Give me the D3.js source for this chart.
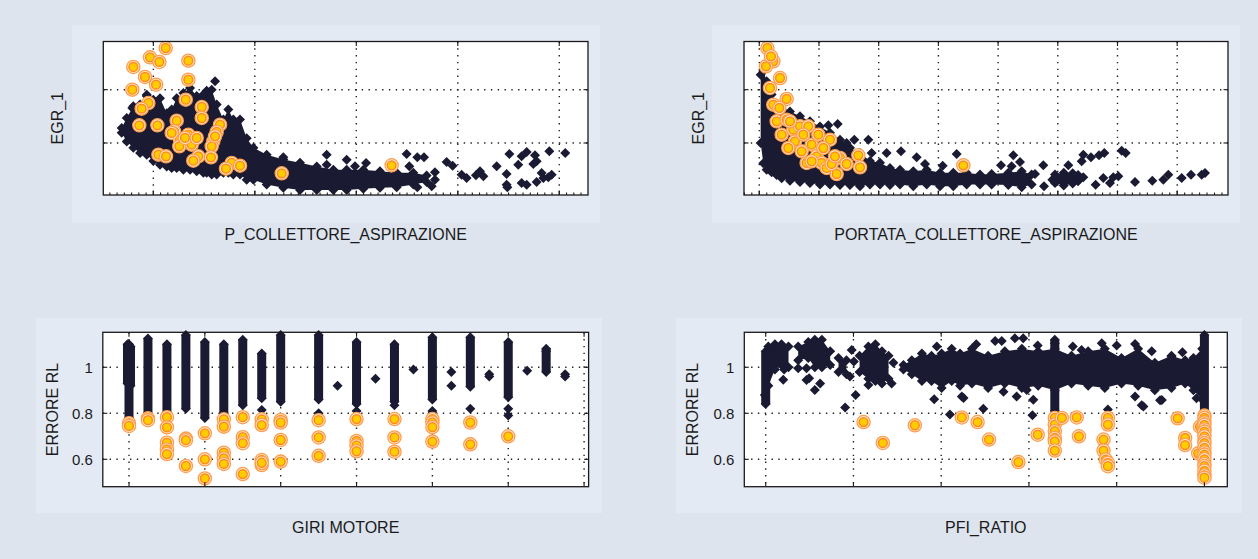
<!DOCTYPE html>
<html lang="it">
<head>
<meta charset="UTF-8">
<title>EGR_1 / ERRORE RL</title>
<style>
  body { margin: 0; background: #dde4ee; }
  svg { display: block; font-family: "Liberation Sans", Arial, sans-serif; }
</style>
</head>
<body>
<svg id="chart" width="1258" height="559"></svg>
<script src="https://cdn.jsdelivr.net/npm/d3@7/dist/d3.min.js"></script>
<script>
// ---- panel 1: EGR_1 vs P_COLLETTORE_ASPIRAZIONE ----
// dense cloud envelope: [x, upper, lower]
const p1Band = [
  [0.688,1.28,1.19],[0.738,1.47,1.03],[0.803,1.69,0.91],[0.869,1.72,0.81],[0.935,1.88,0.78],
  [1.000,1.81,0.66],[1.066,1.84,0.59],[1.132,1.56,0.56],[1.181,1.63,0.53],[1.230,1.84,0.53],
  [1.296,1.94,0.50],[1.362,2.03,0.50],[1.427,1.88,0.47],[1.493,1.91,0.44],[1.526,1.98,0.44],
  [1.575,2.00,0.41],[1.624,1.72,0.41],[1.690,1.44,0.44],[1.739,1.63,0.44],[1.788,1.44,0.41],
  [1.854,1.44,0.41],[1.920,1.09,0.31],[1.986,0.91,0.31],[2.117,0.78,0.22],[2.281,0.69,0.16],
  [2.445,0.63,0.12],[2.610,0.56,0.12],[2.774,0.50,0.12],[2.905,0.50,0.12],[3.069,0.50,0.14],
  [3.233,0.47,0.16],[3.398,0.44,0.17],[3.562,0.44,0.22],[3.693,0.39,0.27]
];
const p1Points = [
  [0.935,1.907],[0.793,1.656],[1.608,2.157],[2.281,0.731],[2.708,0.781],[2.708,0.593],
  [2.905,0.687],[2.987,0.562],[3.096,0.625],[3.496,0.794],[3.601,0.731],[3.667,0.731],
  [3.522,0.562],[3.775,0.450],[3.775,0.312],[3.743,0.187],[3.601,0.168],[3.890,0.644],
  [3.949,0.575],[4.038,0.406],[4.087,0.343],[4.179,0.393],[4.219,0.468],[4.252,0.375],
  [4.383,0.562],[4.481,0.418],[4.508,0.794],[4.596,0.593],[4.629,0.750],[4.679,0.831],
  [4.761,0.769],[4.777,0.656],[4.744,0.606],[4.481,0.218],[4.488,0.168],[4.629,0.250],
  [4.679,0.218],[4.777,0.268],[4.826,0.437],[4.892,0.356],[4.925,0.406],[4.902,0.844],
  [5.059,0.812],[4.843,0.343]
];
const p1Hits = [
  [1.122,2.782],[0.967,2.607],[1.059,2.520],[0.803,2.426],[1.345,2.545],[0.918,2.238],
  [1.027,2.094],[0.793,2.001],[1.345,2.188],[1.319,1.813],[0.951,1.750],[0.885,1.644],
  [1.477,1.675],[1.477,1.469],[1.230,1.419],[0.862,1.332],[1.040,1.332],[1.657,1.344],
  [1.624,1.206],[1.204,1.219],[1.345,1.156],[1.263,1.062],[1.378,0.969],[1.591,1.031],
  [1.575,0.938],[1.256,0.938],[1.181,1.188],[1.050,0.781],[1.125,0.750],[1.444,0.750],
  [1.394,0.668],[1.568,0.731],[1.772,0.625],[1.854,0.575],[1.716,0.518],[2.265,0.431],
  [1.312,1.094],[1.427,1.094],[1.608,1.125],[3.348,0.581]
];

// ---- panel 2: EGR_1 vs PORTATA_COLLETTORE_ASPIRAZIONE ----
const p2Band = [
  [1.023,2.28,1.00],[1.068,2.35,0.62],[1.123,2.16,0.50],[1.207,1.91,0.45],[1.291,1.72,0.40],
  [1.375,1.63,0.34],[1.514,1.59,0.29],[1.682,1.50,0.27],[1.849,1.41,0.25],[2.017,1.31,0.22],
  [2.184,1.19,0.22],[2.352,1.06,0.21],[2.519,0.91,0.21],[2.687,0.81,0.19],[2.854,0.66,0.22],
  [3.022,0.63,0.22],[3.189,0.53,0.21],[3.357,0.50,0.22],[3.580,0.47,0.19],[3.804,0.50,0.22],
  [4.027,0.44,0.19],[4.250,0.44,0.19],[4.473,0.44,0.22],[4.697,0.41,0.22],[4.892,0.42,0.22],
  [5.171,0.44,0.21],[5.395,0.47,0.17],[5.562,0.41,0.22]
];
const p2BandB = [[5.953,0.41,0.25],[6.100,0.44,0.20],[6.250,0.43,0.24],[6.340,0.40,0.28]];
const p2Points = [
  [2.156,1.332],[2.313,1.356],[2.463,1.000],[2.592,1.062],[2.826,1.062],[2.882,0.812],
  [3.133,0.812],[3.374,0.844],[3.636,0.731],[3.776,0.606],[4.072,0.575],[4.306,0.794],
  [5.049,0.581],[5.255,0.769],[5.227,0.562],[5.367,0.644],[5.758,0.581],[5.769,0.187],
  [5.908,0.312],[5.618,0.418],[6.176,0.581],[6.400,0.656],[6.428,0.781],[6.556,0.731],
  [6.690,0.769],[6.779,0.812],[6.634,0.218],[6.763,0.343],[6.874,0.250],[6.930,0.356],
  [7.014,0.375],[7.070,0.856],[7.137,0.812],[7.293,0.268],[7.583,0.293],[7.768,0.312],
  [7.851,0.406],[8.075,0.343],[8.231,0.406],[8.410,0.406],[8.466,0.437],[6.428,0.356]
];
const p2Hits = [
  [1.135,2.782],[1.235,2.532],[1.112,2.438],[1.196,2.626],[1.347,2.219],[1.179,2.032],
  [1.458,1.826],[1.235,1.719],[1.336,1.657],[1.291,1.407],[1.458,1.438],[1.375,1.156],
  [1.570,1.250],[1.682,1.313],[1.821,1.313],[1.598,1.031],[1.877,0.969],[1.989,1.156],
  [2.184,1.062],[1.793,0.625],[1.961,0.750],[2.045,0.625],[2.128,0.531],[2.296,0.418],
  [2.352,0.719],[2.463,0.606],[2.659,0.769],[2.687,0.544],[2.212,0.606],[1.710,0.844],
  [1.486,0.906],[4.418,0.581],[2.073,0.906],[1.877,0.656],[1.514,1.407],[1.738,1.156],
  [2.268,0.750]
];

// ---- panel 3: ERRORE RL vs GIRI MOTORE ----
// dense vertical runs: [rpm, top, bottom]
const p3Columns = [
  [980,1.10,0.93],[1020,1.09,0.92],[1000,1.10,0.78],[1250,1.125,0.79],[1500,1.10,0.80],
  [1750,1.14,0.82],[2000,1.11,0.78],[2250,1.10,0.80],[2500,1.12,0.835],[2750,1.06,0.865],
  [3000,1.14,0.85],[3500,1.14,0.86],[4000,1.11,0.84],[4500,1.10,0.85],[5000,1.13,0.86],
  [5500,1.13,0.915],[6000,1.11,0.87],[6500,1.08,0.98]
];
const p3Points = [
  [2750,0.814],[3500,0.80],[3500,0.79],[3750,0.92],[4000,0.81],[4250,0.95],[4500,0.835],
  [4750,0.99],[5000,0.81],[5000,0.80],[5250,0.98],[5250,0.92],[5500,0.82],[5750,0.97],
  [5750,0.96],[6000,0.79],[6000,0.82],[6250,0.985],[6750,0.97],[6750,0.96],[6500,1.07]
];
const p3Hits = [
  [1000,0.757],[1000,0.745],[1250,0.778],[1250,0.770],
  [1500,0.783],[1500,0.739],[1500,0.672],[1500,0.643],[1500,0.623],
  [1750,0.690],[1750,0.683],[1750,0.571],[2000,0.713],[2000,0.600],[2000,0.517],
  [2250,0.774],[2250,0.742],[2250,0.629],[2250,0.604],[2250,0.580],
  [2500,0.783],[2500,0.696],[2500,0.670],[2500,0.536],
  [2750,0.774],[2750,0.749],[2750,0.597],[2750,0.575],[2750,0.585],
  [3000,0.771],[3000,0.760],[3000,0.684],[3000,0.590],
  [3500,0.770],[3500,0.695],[3500,0.615],[4000,0.775],[4000,0.680],[4000,0.660],[4000,0.635],
  [4500,0.775],[4500,0.695],[4500,0.633],[5000,0.775],[5000,0.760],[5000,0.740],[5000,0.677],
  [5500,0.760],[5500,0.665],[6000,0.700]
];

// ---- panel 4: ERRORE RL vs PFI_RATIO ----
const p4BandA = [[0.006,1.09,0.92],[0.021,1.10,0.99],[0.036,1.10,1.01],[0.052,1.09,1.00]];
const p4BandB = [[0.074,1.09,1.03],[0.097,1.11,1.04],[0.112,1.12,1.00],[0.128,1.12,1.00],[0.147,1.07,1.01]];
const p4BandC = [[0.166,1.04,0.98],[0.184,1.03,0.97]];
const p4BandD = [[0.214,1.05,0.98],[0.234,1.09,0.95],[0.250,1.10,0.94],[0.265,1.07,0.93],[0.280,1.05,0.95]];
const p4BandE = [
  [0.314,1.01,0.99],[0.333,1.03,0.97],[0.356,1.06,0.94],[0.378,1.05,0.94],[0.401,1.06,0.91],
  [0.424,1.08,0.94],[0.443,1.06,0.92],[0.470,1.08,0.93],[0.507,1.05,0.91],[0.545,1.07,0.93],
  [0.584,1.08,0.91],[0.621,1.07,0.92],[0.659,1.08,0.90],[0.697,1.05,0.93],[0.735,1.07,0.92],
  [0.773,1.08,0.91],[0.811,1.04,0.93],[0.849,1.08,0.92],[0.887,1.02,0.90],[0.925,1.05,0.91],
  [0.956,1.03,0.93],[0.975,1.04,0.90],[0.995,1.08,0.86]
];
const p4Columns = [[0.0,1.07,0.84],[0.659,1.12,0.81],[1.0,1.14,0.79]];
const p4Points = [
  [0.042,0.990],[0.040,0.946],[-0.002,0.880],[0.074,0.996],[0.093,0.996],[0.093,0.945],
  [0.099,0.952],[0.124,0.930],[0.112,0.901],[0.196,1.075],[0.201,1.025],[0.192,0.960],
  [0.205,0.880],[0.181,0.825],[0.234,0.923],[0.287,0.930],[0.291,1.020],[0.384,0.861],
  [0.420,0.795],[0.447,0.873],[0.451,0.866],[0.542,0.894],[0.572,0.873],[0.595,0.901],
  [0.610,0.859],[0.608,0.791],[0.496,0.820],[0.780,0.816],[0.842,0.873],[0.857,0.835],
  [0.899,0.857],[0.842,1.101],[0.523,1.114],[0.538,1.114],[0.568,1.126],[0.587,1.126],
  [0.659,1.104],[0.720,1.075],[0.766,1.104],[0.925,1.046],[0.861,0.829],[0.903,0.858],
  [0.982,0.865],[0.390,1.090],[0.480,1.100],[0.620,1.095],[0.700,1.090],[0.800,1.095],
  [0.880,1.070],[0.950,1.065]
];
const p4Hits = [
  [0.223,0.762],[0.267,0.671],[0.340,0.748],[0.447,0.782],[0.483,0.762],[0.509,0.686],
  [0.576,0.588],[0.620,0.707],[0.659,0.780],[0.659,0.751],[0.659,0.722],[0.659,0.693],
  [0.659,0.678],[0.659,0.638],[0.675,0.780],[0.709,0.782],[0.714,0.700],[0.770,0.686],
  [0.770,0.638],[0.780,0.780],[0.780,0.751],[0.775,0.599],[0.780,0.584],[0.780,0.570],
  [0.939,0.778],[0.956,0.693],[0.956,0.662],[0.990,0.742],[0.986,0.626],
  [1.0,0.79],[1.0,0.78],[1.0,0.76],[1.0,0.75],[1.0,0.73],[1.0,0.72],[1.0,0.70],[1.0,0.68],
  [1.0,0.67],[1.0,0.65],[1.0,0.63],[1.0,0.62],[1.0,0.60],[1.0,0.58],[1.0,0.57],[1.0,0.55],
  [1.0,0.53],[1.0,0.52]
];

// ---- axes ticks / labels ----
const topYTicks = [1, 2];
const p1XTicks = [1, 2, 3, 4, 5];
const p2XTicks = [1, 2, 3, 4, 5, 6, 7, 8];
const p3XTicks = [1000, 2000, 3000, 4000, 5000, 6000, 7000];
const p4XTicks = [0, 0.2, 0.4, 0.6, 0.8, 1.0];
const errYTicks = [0.6, 0.8, 1];
const errYLabels = ["0.6", "0.8", "1"];

const svg = d3.select("#chart");
const navy = "#1b1a33";
const R = 5;
const diamond = `M0,${-R}L${R},0L0,${R}L${-R},0Z`;

function drawPanel(p) {
  const g = svg.append("g");
  g.append("rect").attr("x", p.bg[0]).attr("y", p.bg[1]).attr("width", p.bg[2]).attr("height", p.bg[3])
    .attr("fill", "#e4eaf3");

  const x = d3.scaleLinear().domain(p.xDomain).range([p.box.l, p.box.r]);
  const y = d3.scaleLinear().domain(p.yDomain).range([p.box.b, p.box.t]);

  g.append("rect").attr("x", p.box.l).attr("y", p.box.t)
    .attr("width", p.box.r - p.box.l).attr("height", p.box.b - p.box.t).attr("fill", "#fff");

  // dotted grid
  const grid = g.append("g").attr("stroke", "#222").attr("stroke-width", 1.4)
    .attr("stroke-dasharray", "1.4,5.4");
  grid.selectAll(".gx").data(p.xTicks).join("line")
    .attr("x1", d => x(d)).attr("x2", d => x(d)).attr("y1", p.box.t).attr("y2", p.box.b);
  grid.selectAll(".gy").data(p.yTicks).join("line")
    .attr("y1", d => y(d)).attr("y2", d => y(d)).attr("x1", p.box.l).attr("x2", p.box.r);

  // dense clouds
  const area = d3.area().x(d => x(d[0])).y0(d => y(d[2])).y1(d => y(d[1]));
  (p.bands || []).forEach(band => {
    g.append("path").datum(band).attr("d", area).attr("fill", navy);
    g.selectAll(null).data(band.flatMap(d => [[d[0], d[1]], [d[0], d[2]]])).join("path")
      .attr("d", diamond).attr("fill", navy)
      .attr("transform", d => `translate(${x(d[0])},${y(d[1])})`);
  });

  // vertical runs
  const cols = g.append("g").attr("fill", navy);
  (p.columns || []).forEach(c => {
    cols.append("rect").attr("x", x(c[0]) - 4.5).attr("width", 9)
      .attr("y", y(c[1])).attr("height", y(c[2]) - y(c[1]));
    [c[1], c[2]].forEach(v => cols.append("path").attr("d", diamond)
      .attr("transform", `translate(${x(c[0])},${y(v)})`));
  });

  g.append("g").selectAll("path").data(p.points).join("path")
    .attr("d", diamond).attr("fill", navy)
    .attr("transform", d => `translate(${x(d[0])},${y(d[1])})`);

  // highlighted points
  const hits = g.append("g").selectAll("g").data(p.hits).join("g")
    .attr("transform", d => `translate(${x(d[0])},${y(d[1])})`);
  hits.append("circle").attr("r", 6.6).attr("fill", "#ffeedd").attr("stroke", "#ff9d4a").attr("stroke-width", 1.3);
  hits.append("circle").attr("r", 4.4).attr("fill", "#ffcc00").attr("stroke", "#ff8a1c").attr("stroke-width", 1.5);

  // box and inward ticks
  g.append("rect").attr("x", p.box.l).attr("y", p.box.t)
    .attr("width", p.box.r - p.box.l).attr("height", p.box.b - p.box.t)
    .attr("fill", "none").attr("stroke", "#1a1a1a").attr("stroke-width", 1.3);
  const tk = g.append("g").attr("stroke", "#1a1a1a").attr("stroke-width", 1.1);
  const TL = 4.5;
  p.xTicks.forEach(v => {
    tk.append("line").attr("x1", x(v)).attr("x2", x(v)).attr("y1", p.box.b).attr("y2", p.box.b - TL);
    tk.append("line").attr("x1", x(v)).attr("x2", x(v)).attr("y1", p.box.t).attr("y2", p.box.t + TL);
  });
  p.yTicks.forEach(v => {
    tk.append("line").attr("y1", y(v)).attr("y2", y(v)).attr("x1", p.box.l).attr("x2", p.box.l + TL);
    tk.append("line").attr("y1", y(v)).attr("y2", y(v)).attr("x1", p.box.r).attr("x2", p.box.r - TL);
  });
  if (p.minorStep) {
    const mt = d3.range(Math.ceil(p.xDomain[0] / p.minorStep), Math.floor(p.xDomain[1] / p.minorStep) + 1)
      .map(i => i * p.minorStep);
    mt.forEach(v => {
      tk.append("line").attr("x1", x(v)).attr("x2", x(v)).attr("y1", p.box.b).attr("y2", p.box.b - 2.5);
    });
  }

  if (p.yLabels) {
    g.selectAll(".yl").data(p.yTicks).join("text")
      .attr("x", p.box.l - 10).attr("y", d => y(d)).attr("dy", "0.36em")
      .attr("text-anchor", "end").attr("font-size", 15).attr("fill", "#1a1a1a")
      .text((d, i) => p.yLabels[i]);
  }

  g.append("text").attr("x", (p.box.l + p.box.r) / 2).attr("y", p.xTitleY)
    .attr("text-anchor", "middle").attr("font-size", 16).attr("fill", "#1a1a1a").text(p.xTitle);
  g.append("text").attr("transform", `translate(${p.yTitleX},${(p.box.t + p.box.b) / 2}) rotate(-90)`)
    .attr("text-anchor", "middle").attr("font-size", 16).attr("fill", "#1a1a1a").text(p.yTitle);
}

drawPanel({
  bg: [72, 25, 528, 198],
  box: { l: 103.3, t: 41.5, r: 588, b: 195 },
  xDomain: [0.507, 5.283], yDomain: [0.024, 2.904],
  xTicks: p1XTicks, yTicks: topYTicks, minorStep: 1 / 14,
  bands: [p1Band], points: p1Points, hits: p1Hits,
  xTitle: "P_COLLETTORE_ASPIRAZIONE", xTitleY: 240, yTitle: "EGR_1", yTitleX: 63
});
drawPanel({
  bg: [712, 25, 528, 198],
  box: { l: 744, t: 41.5, r: 1228, b: 195 },
  xDomain: [0.744, 8.851], yDomain: [0.024, 2.904],
  xTicks: p2XTicks, yTicks: topYTicks, minorStep: 1 / 8,
  bands: [p2Band, p2BandB], points: p2Points, hits: p2Hits,
  xTitle: "PORTATA_COLLETTORE_ASPIRAZIONE", xTitleY: 240, yTitle: "EGR_1", yTitleX: 704
});
drawPanel({
  bg: [36, 318, 566, 195],
  box: { l: 102.8, t: 332.3, r: 588.6, b: 486.7 },
  xDomain: [654.6, 7059.5], yDomain: [0.481, 1.152],
  xTicks: p3XTicks, yTicks: errYTicks, yLabels: errYLabels,
  columns: p3Columns, points: p3Points, hits: p3Hits,
  xTitle: "GIRI MOTORE", xTitleY: 533, yTitle: "ERRORE RL", yTitleX: 57.5
});
drawPanel({
  bg: [676, 318, 566, 195],
  box: { l: 744.3, t: 332.3, r: 1227.3, b: 486.7 },
  xDomain: [-0.0488, 1.0522], yDomain: [0.481, 1.152],
  xTicks: p4XTicks, yTicks: errYTicks, yLabels: errYLabels,
  bands: [p4BandA, p4BandB, p4BandC, p4BandD, p4BandE],
  columns: p4Columns, points: p4Points, hits: p4Hits,
  xTitle: "PFI_RATIO", xTitleY: 533, yTitle: "ERRORE RL", yTitleX: 698
});
</script>
</body>
</html>
